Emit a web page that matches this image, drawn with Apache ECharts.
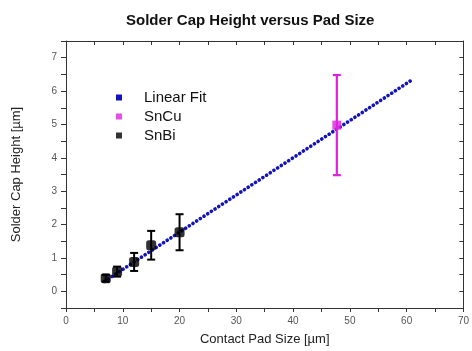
<!DOCTYPE html>
<html><head><meta charset="utf-8">
<script src="https://cdn.jsdelivr.net/npm/echarts@6/dist/echarts.min.js"></script>
<style>html,body{margin:0;padding:0;background:#fff}#c{width:472px;height:351px}</style>
</head><body><div id="c"></div>
<script>
// ---- data ----
const fitX = [6.8, 60.8];
const fitY = [0.30, 6.32];
const snBiX = [7, 9, 12, 15, 20];
const snBiY = [0.39, 0.59, 0.88, 1.38, 1.77];
const snBiErr = [0.10, 0.15, 0.27, 0.43, 0.54];
const snCuX = [47.7];
const snCuY = [4.98];
const snCuErr = [1.5];
const xTicks = [0, 10, 20, 30, 40, 50, 60, 70];
const yTicks = [0, 1, 2, 3, 4, 5, 6, 7];
const seriesNames = ['Linear Fit', 'SnCu', 'SnBi'];

const FONT = 'Liberation Sans, Arial, sans-serif';
const BLUE = '#1212bc', MAG = '#e020e0', BLK = '#000000';

function errRender(color, cap, lw) {
  return function (params, api) {
    const x = api.value(0), lo = api.value(1), hi = api.value(2);
    const a = api.coord([x, lo]), b = api.coord([x, hi]);
    const style = { stroke: color, lineWidth: lw };
    return { type: 'group', children: [
      { type: 'line', shape: { x1: a[0], y1: a[1], x2: b[0], y2: b[1] }, style },
      { type: 'line', shape: { x1: a[0] - cap, y1: a[1], x2: a[0] + cap, y2: a[1] }, style },
      { type: 'line', shape: { x1: b[0] - cap, y1: b[1], x2: b[0] + cap, y2: b[1] }, style }
    ]};
  };
}

const chart = echarts.init(document.getElementById('c'), null, { renderer: 'canvas' });
const axisCommon = {
  type: 'value', splitLine: { show: false },
  axisLine: { show: true, onZero: false, lineStyle: { color: '#333', width: 1 } }
};
chart.setOption({
  animation: false,
  backgroundColor: '#fff',
  title: {
    text: 'Solder Cap Height versus Pad Size', left: 121, top: 8,
    textStyle: { fontFamily: FONT, fontSize: 15, fontWeight: 'bold', color: '#111' }
  },
  legend: {
    orient: 'vertical', left: 111, top: 85, itemWidth: 6, itemHeight: 6, itemGap: 4,
    textStyle: { fontFamily: FONT, fontSize: 15, color: '#111', padding: [0, 0, 0, 17] },
    data: [
      { name: seriesNames[0], icon: 'rect', itemStyle: { color: BLUE } },
      { name: seriesNames[1], icon: 'rect', itemStyle: { color: MAG } },
      { name: seriesNames[2], icon: 'rect', itemStyle: { color: BLK } }
    ]
  },
  grid: { left: 66, right: 2, top: 41, bottom: 38, containLabel: false },
  xAxis: [
    Object.assign({}, axisCommon, {
      position: 'bottom', min: 0, max: 70, interval: 5,
      axisTick: { show: true, inside: false, length: 4, lineStyle: { color: '#333' } },
      axisLabel: { margin: 8, fontFamily: FONT, fontSize: 10, color: '#555',
        formatter: v => xTicks.includes(v) ? String(v) : '' },
      name: 'Contact Pad Size [\u00b5m]', nameLocation: 'middle', nameGap: 25,
      nameTextStyle: { fontFamily: FONT, fontSize: 13, color: '#222' }
    }),
    Object.assign({}, axisCommon, {
      position: 'top', min: 0, max: 70, interval: 5,
      axisTick: { show: true, inside: true, length: 4, lineStyle: { color: '#333' } },
      axisLabel: { show: false }
    })
  ],
  yAxis: [
    Object.assign({}, axisCommon, {
      position: 'left', min: -0.5, max: 7.5, interval: 0.5,
      axisTick: { show: true, inside: false, length: 5, lineStyle: { color: '#333' } },
      axisLabel: { margin: 9, fontFamily: FONT, fontSize: 10, color: '#555',
        formatter: v => yTicks.includes(v) ? String(v) : '' },
      name: 'Solder Cap Height [\u00b5m]', nameLocation: 'middle', nameGap: 43, nameRotate: 90,
      nameTextStyle: { fontFamily: FONT, fontSize: 13, color: '#222' }
    }),
    Object.assign({}, axisCommon, {
      position: 'right', min: -0.5, max: 7.5, interval: 0.5,
      axisTick: { show: true, inside: true, length: 4, lineStyle: { color: '#333' } },
      axisLabel: { show: false }
    })
  ],
  series: [
    {
      name: seriesNames[0], type: 'line', showSymbol: false, z: 2,
      data: fitX.map((x, i) => [x, fitY[i]]),
      itemStyle: { color: BLUE },
      lineStyle: { color: BLUE, width: 3.6, type: [0.1, 4.3], cap: 'round' }
    },
    {
      name: 'SnCu err', type: 'custom', z: 3,
      renderItem: errRender(MAG, 4, 2.2),
      encode: { x: 0, y: [1, 2] },
      data: snCuX.map((x, i) => [x, snCuY[i] - snCuErr[i], snCuY[i] + snCuErr[i]])
    },
    {
      name: 'SnBi err', type: 'custom', z: 3,
      renderItem: errRender(BLK, 4, 2),
      encode: { x: 0, y: [1, 2] },
      data: snBiX.map((x, i) => [x, snBiY[i] - snBiErr[i], snBiY[i] + snBiErr[i]])
    },
    {
      name: seriesNames[1], type: 'scatter', z: 4, symbol: 'rect', symbolSize: 9,
      itemStyle: { color: MAG },
      data: snCuX.map((x, i) => [x, snCuY[i]])
    },
    {
      name: seriesNames[2], type: 'scatter', z: 4, symbol: 'roundRect', symbolSize: 10,
      itemStyle: { color: BLK },
      data: snBiX.map((x, i) => [x, snBiY[i]])
    }
  ]
});
</script>
</body></html>
